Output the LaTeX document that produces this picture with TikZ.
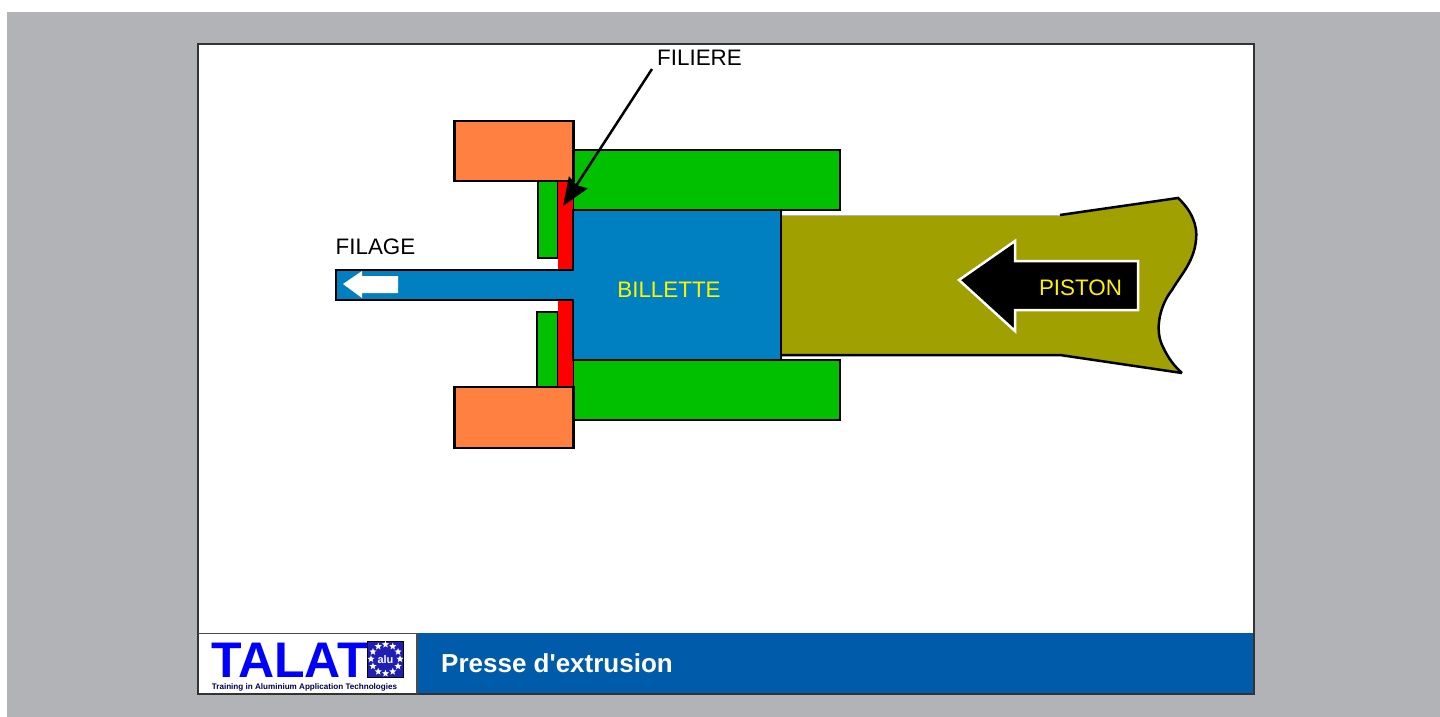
\documentclass[tikz,border=0pt]{standalone}
\usepackage{fontspec}
\setmainfont{Liberation Sans}
\newfontfamily\titrefont{Liberation Sans}
\usetikzlibrary{arrows.meta,shapes.geometric}
\definecolor{gris}{HTML}{B2B3B6}
\definecolor{vert}{HTML}{00C000}
\definecolor{orange}{HTML}{FF8040}
\definecolor{bleu}{HTML}{0080C0}
\definecolor{olive}{HTML}{A0A000}
\definecolor{bandeau}{HTML}{005BAA}
\definecolor{flag}{HTML}{1F1FB8}
\newcommand{\bloc}[5]{\draw[trait,fill=#1] (#2,#3) rectangle (#4,#5)}
\newcommand{\plaque}[2]{\fill[red] (558,#1) rectangle (573,#2)}
\newcommand{\etoile}[2]{\node[etoile] (star#1) at ([shift={(#2:14.5)}]logoflag) {}}
\tikzset{
	trait/.style={line width=2.5pt},
	texte/.style={inner sep=0pt,font=\fontsize{22.4}{26}\selectfont},
	etoile/.style={star,star points=5,star point ratio=2.3,fill=white,inner sep=0pt,minimum size=7.5pt},
}

\begin{document}
\begin{tikzpicture}[x=1pt,y=-1pt]
	\useasboundingbox (0,0) rectangle (1440,717);
	\fill[white] (0,0) rectangle (1440,717);
	\fill[gris] (7,12) rectangle (1440,717);
	\fill[white] (198,44) rectangle (1254,694);
	\bloc{vert}{573}{150}{840}{210};
	\bloc{vert}{573}{360}{840}{420};
	\bloc{vert}{538}{181}{558}{258};
	\bloc{vert}{537}{312}{558}{387};
	\plaque{181}{271};
	\plaque{299}{387};
	\fill[olive] (781,215) -- (1060,215) -- (1178,198)
		.. controls (1191,210) and (1198,225) .. (1196,240)
		.. controls (1194,262) and (1180,276) .. (1172,290)
		.. controls (1160,305) and (1154,330) .. (1163,347)
		.. controls (1168,358) and (1175,367) .. (1182,373)
		-- (1060,355) -- (781,355) -- cycle;
	\draw[gris,line width=1pt] (781,215) -- (1060,215);
	\draw[trait] (781,355) -- (1060,355) -- (1182,373);
	\draw[trait] (1060,215) -- (1178,198)
		.. controls (1191,210) and (1198,225) .. (1196,240)
		.. controls (1194,262) and (1180,276) .. (1172,290)
		.. controls (1160,305) and (1154,330) .. (1163,347)
		.. controls (1168,358) and (1175,367) .. (1182,373);
	\draw[trait,fill=bleu] (573,210) -- (781,210) -- (781,360) -- (573,360) -- (573,300)
		-- (336,300) -- (336,270) -- (573,270) -- cycle;
	\bloc{orange}{454.5}{121}{573.5}{181};
	\bloc{orange}{454.5}{387}{573.5}{448};
	\fill[white] (343,284) -- (362,271) -- (362,276) -- (398,276) -- (398,293) -- (362,293) -- (362,298) -- cycle;
	\draw[white,line width=2.5pt,fill=black] (959,280) -- (1015,241) -- (1015,261) -- (1138,261)
		-- (1138,310) -- (1015,310) -- (1015,331) -- cycle;
	\node[texte] (filiere) at (699.5,57.5) {FILIERE};
	\node[texte] (filage) at (375.5,247) {FILAGE};
	\node[texte,text=yellow] (billette) at (669,289.5) {BILLETTE};
	\node[texte,text=yellow] (piston) at (1080.5,288) {PISTON};
	\coordinate (filieretip) at (563,206);
	\draw[line width=2.5pt,-{Stealth[length=28pt,width=22pt,inset=3pt]}] (652,69) -- (filieretip);
	\fill[bandeau] (417,633) rectangle (1254,693);
	\node[inner sep=0pt,text=white,font=\fontsize{26}{30}\titrefont\bfseries\selectfont] (titre) at (557,663) {Presse d'extrusion};
	\draw[line width=1.5pt,draw=black!80] (198,44) rectangle (1254,694);
	\draw[line width=1.5pt,draw=black!70] (417,633) -- (417,694);
	\draw[line width=1pt,draw=black!70] (198,633) -- (417,633);
	\node[inner sep=0pt,text=blue,font=\fontsize{50}{54}\bfseries\selectfont] (talat) at (289.5,660) {TALAT};
	\node[draw=black,line width=1pt,fill=flag,minimum size=36pt,inner sep=0pt] (logoflag) at (385.5,659) {};
	\node[inner sep=0pt,text=white,font=\fontsize{11}{13}\bfseries\selectfont] (alu) at (385.5,660) {alu};
	\etoile{1}{0};
	\etoile{2}{30};
	\etoile{3}{60};
	\etoile{4}{90};
	\etoile{5}{120};
	\etoile{6}{150};
	\etoile{7}{180};
	\etoile{8}{210};
	\etoile{9}{240};
	\etoile{10}{270};
	\etoile{11}{300};
	\etoile{12}{330};
	\node[inner sep=0pt,text=black!70!blue,font=\fontsize{8.1}{10}\bfseries\selectfont] (talatsous) at (304.5,687) {Training in Aluminium Application Technologies};
\end{tikzpicture}
\end{document}
